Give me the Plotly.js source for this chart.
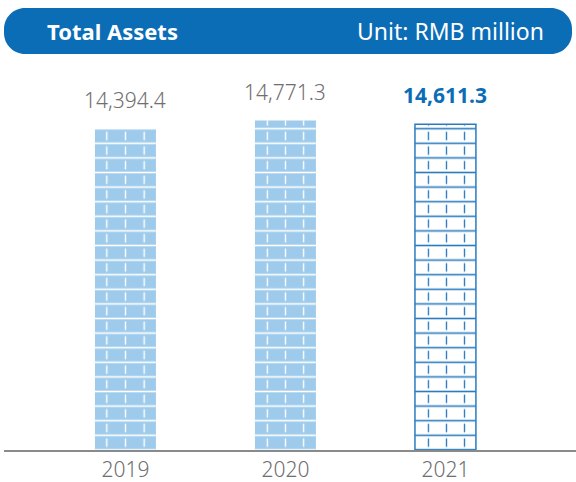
<!DOCTYPE html>
<html>
<head>
<meta charset="utf-8">
<script src="https://cdn.plot.ly/plotly-3.0.1.min.js"></script>
<style>
  html, body { margin: 0; padding: 0; background: #ffffff; }
  #chart { width: 576px; height: 482px; }
</style>
</head>
<body>
<div id="chart"></div>
<script>
// ---- data ----
var years = ['2019', '2020', '2021'];
var totalAssets = [14394.4, 14771.3, 14611.3];
var valueLabels = ['14,394.4', '14,771.3', '14,611.3'];
var chartTitle = 'Total Assets';
var unitText = 'Unit: RMB million';

// ---- styling ----
var W = 576, H = 482;
var BLUE = '#0b6db6';
var LIGHT = '#9ecbeb';
var fills = [LIGHT, LIGHT, '#ffffff'];
var lineCols = ['#ffffff', '#ffffff', '#2a7cc0'];
var barWidth = 0.381;
var vSizes = [18.69, 18.16, 18.06];
var brick = 14.6;
var FONT = 'Noto Sans, Open Sans, sans-serif';

function common(extra) {
  var t = {
    type: 'bar', x: years, y: totalAssets, width: barWidth,
    hoverinfo: 'skip', showlegend: false
  };
  for (var k in extra) t[k] = extra[k];
  return t;
}

var data = [
  // base fill
  common({ marker: { color: fills, line: { width: 0 } } }),
  // vertical joints (fg = marker colour, transparent background)
  common({ marker: { color: lineCols, line: { width: 0 }, pattern: {
    shape: '|', size: vSizes, solidity: 0.075, fillmode: 'replace' } } }),
  // gap eraser near horizontal joints
  common({ marker: { color: fills, line: { width: 0 }, pattern: {
    shape: '-', size: brick, solidity: 0.42, fillmode: 'replace' } } }),
  // horizontal joints
  common({ marker: { color: lineCols, line: { width: 0 }, pattern: {
    shape: '-', size: brick, solidity: 0.11, fillmode: 'replace' } } }),
  // outline (2021 only)
  common({ marker: { color: 'rgba(0,0,0,0)', line: { width: [0, 0, 1.5], color: lineCols } } })
];

function px(x, y) {
  return (x / W).toFixed(5) + ',' + (1 - y / H).toFixed(5);
}
function roundRect(x0, y0, x1, y1, r) {
  var k = r * 0.5523;
  return 'M' + px(x0 + r, y0) +
    ' L' + px(x1 - r, y0) +
    ' C' + px(x1 - r + k, y0) + ' ' + px(x1, y0 + r - k) + ' ' + px(x1, y0 + r) +
    ' L' + px(x1, y1 - r) +
    ' C' + px(x1, y1 - r + k) + ' ' + px(x1 - r + k, y1) + ' ' + px(x1 - r, y1) +
    ' L' + px(x0 + r, y1) +
    ' C' + px(x0 + r - k, y1) + ' ' + px(x0, y1 - r + k) + ' ' + px(x0, y1 - r) +
    ' L' + px(x0, y0 + r) +
    ' C' + px(x0, y0 + r - k) + ' ' + px(x0 + r - k, y0) + ' ' + px(x0 + r, y0) + ' Z';
}

var annotations = [
  { xref: 'paper', yref: 'paper', x: 45 / W, y: 1 - 31 / H, xanchor: 'left', yanchor: 'middle',
    text: '<b>' + chartTitle + '</b>', showarrow: false,
    font: { family: FONT, size: 22, color: '#ffffff' } },
  { xref: 'paper', yref: 'paper', x: 546 / W, y: 1 - 31 / H, xanchor: 'right', yanchor: 'middle',
    text: unitText, showarrow: false,
    font: { family: FONT, size: 23, color: '#ffffff' } }
];
for (var i = 0; i < years.length; i++) {
  var last = (i === years.length - 1);
  annotations.push({
    x: i, y: totalAssets[i], xref: 'x', yref: 'y',
    text: last ? '<b>' + valueLabels[i] + '</b>' : valueLabels[i],
    showarrow: false, yanchor: 'bottom', yshift: 13,
    font: { family: FONT, size: 21, color: last ? BLUE : '#6f6f6f', weight: last ? 700 : 300 }
  });
}

var layout = {
  width: W, height: H,
  margin: { l: 0, r: 0, t: 0, b: 0 },
  paper_bgcolor: '#ffffff', plot_bgcolor: '#ffffff',
  barmode: 'overlay',
  xaxis: {
    type: 'category', domain: [4 / W, 1], range: [-0.759, 2.816],
    showline: true, linecolor: '#8a8a8a', linewidth: 2,
    showgrid: false, zeroline: false, ticks: '', automargin: false,
    tickfont: { family: FONT, size: 21, color: '#6f6f6f', weight: 300 },
    fixedrange: true
  },
  yaxis: {
    domain: [(H - 450) / H, (H - 63) / H], range: [0, 17354],
    showticklabels: false, ticks: '', showline: false,
    showgrid: false, zeroline: false, fixedrange: true, automargin: false
  },
  shapes: [{
    type: 'path', xref: 'paper', yref: 'paper', layer: 'below',
    path: roundRect(4, 8, 572, 54, 21),
    fillcolor: BLUE, line: { width: 0 }
  }],
  annotations: annotations
};

Plotly.newPlot('chart', data, layout, { displayModeBar: false, staticPlot: true });
</script>
</body>
</html>
